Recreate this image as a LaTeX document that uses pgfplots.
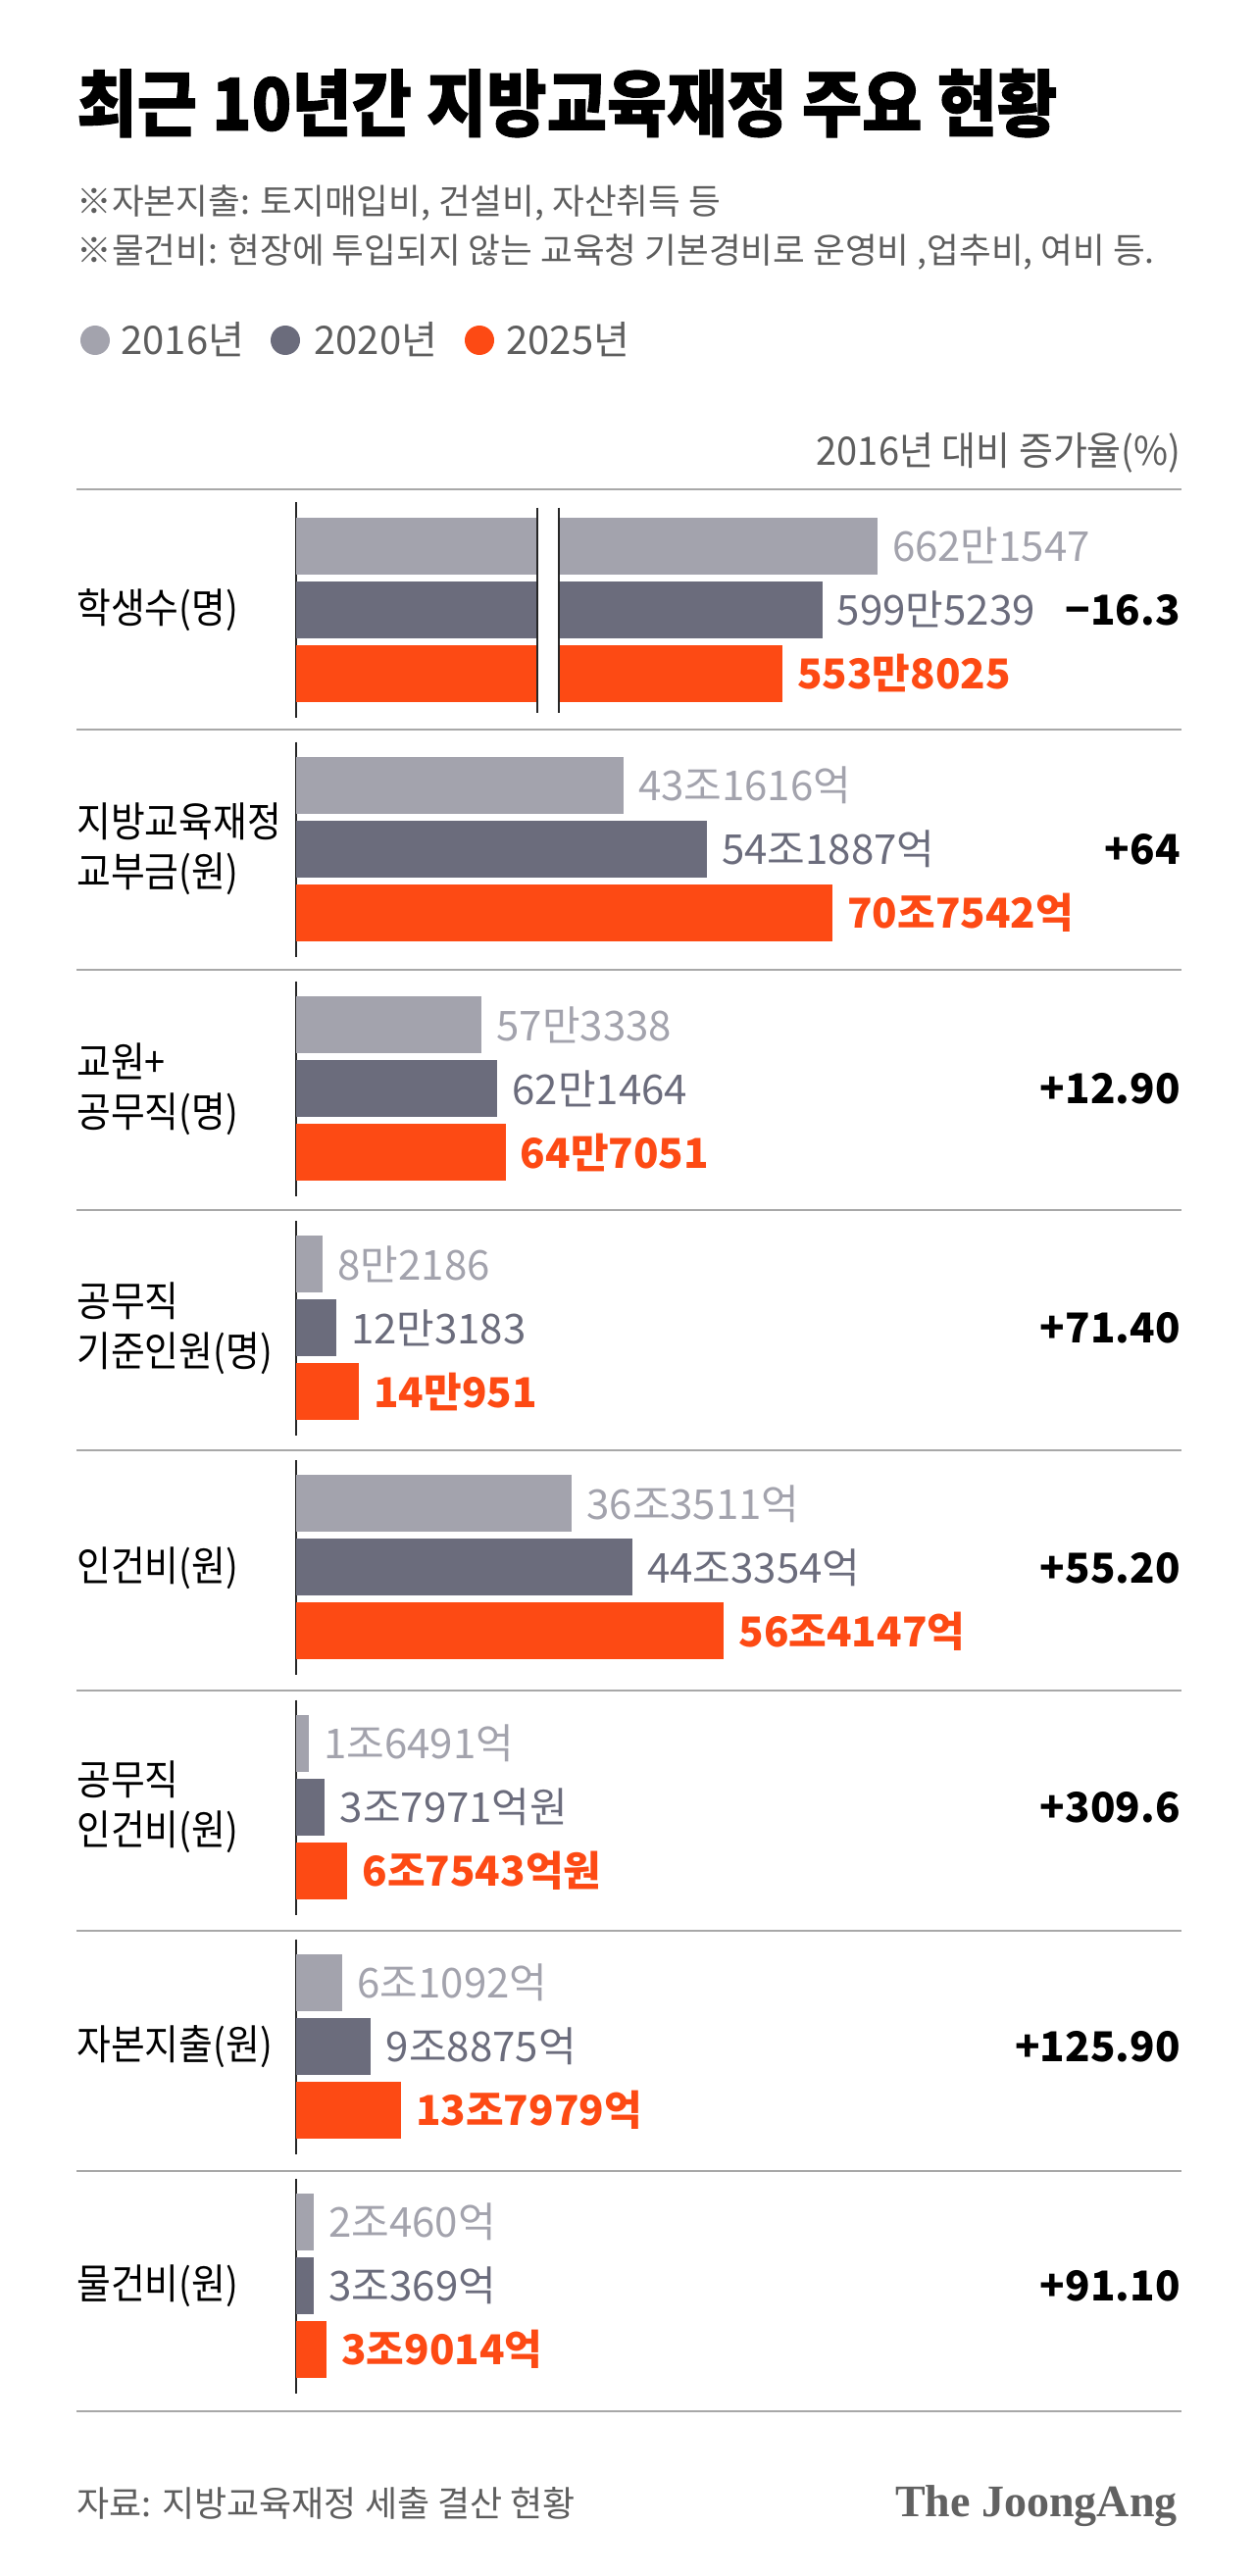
\documentclass[border=0pt]{standalone}
\usepackage{fontspec}
\usepackage{pgfplots}
\pgfplotsset{compat=1.18}
\setmainfont{Noto Sans CJK KR}
\newfontfamily\krB{Noto Sans CJK KR}
\newfontfamily\krN[FakeStretch=0.9]{Noto Sans CJK KR}
\newfontfamily\krH[FakeStretch=0.95]{Noto Sans CJK KR}
\newfontfamily\krT[FakeStretch=0.9,FakeBold=1.2]{Noto Sans CJK KR}
\newfontfamily\logofont{Liberation Serif}
\definecolor{c16}{HTML}{A3A3AD}
\definecolor{c20}{HTML}{6B6C7C}
\definecolor{c25}{HTML}{FD4A14}
\definecolor{sepc}{HTML}{A8A8A8}
\definecolor{notec}{HTML}{5E5E5E}
\pgfplotsset{
  rowaxis/.style={
    xbar, bar width=29pt, bar shift=0pt,
    y=32.5pt, y dir=reverse, ymin=-0.68, ymax=2.69, xmin=0,
    axis x line=none, axis y line*=left, ytick=\empty, xtick=\empty,
    axis line style={line width=0.9pt, black!85},
    enlargelimits=false, clip=false, anchor=west,
    point meta=explicit symbolic, nodes near coords,
    every node near coord/.append style={anchor=west, inner sep=0pt, xshift=7.5pt,
      font=\krB\fontsize{21pt}{24pt}\selectfont},
  },
  p16/.style={fill=c16, draw=none, every node near coord/.append style={text=c16}},
  p20/.style={fill=c20, draw=none, every node near coord/.append style={text=c20}},
  p25/.style={fill=c25, draw=none, every node near coord/.append style={text=c25, font=\krB\bfseries\fontsize{21pt}{24pt}\selectfont}},
}
\begin{document}
\begin{tikzpicture}[x=0.5pt,y=-0.5pt]
\fill[white] (0,0) rectangle (1280,2627);
\path[use as bounding box] (0,0) rectangle (1280,2627);
% title and notes
\node[anchor=base west, inner sep=0] at (78,133) {\krT\bfseries\fontsize{37pt}{42pt}\selectfont 최근 10년간 지방교육재정 주요 현황};
\node[anchor=base west, inner sep=0, text=notec] at (78,219) {\krB\fontsize{17.8pt}{21pt}\selectfont ※자본지출: 토지매입비, 건설비, 자산취득 등};
\node[anchor=base west, inner sep=0, text=notec] at (78,269) {\krB\fontsize{17.8pt}{21pt}\selectfont ※물건비: 현장에 투입되지 않는 교육청 기본경비로 운영비 ,업추비, 여비 등.};
% legend
\fill[c16] (97,347) circle (15);
\fill[c20] (291,347) circle (15);
\fill[c25] (489,347) circle (15);
\node[anchor=base west, inner sep=0, text=notec] at (123,362) {\krB\fontsize{20pt}{24pt}\selectfont 2016년};
\node[anchor=base west, inner sep=0, text=notec] at (320,362) {\krB\fontsize{20pt}{24pt}\selectfont 2020년};
\node[anchor=base west, inner sep=0, text=notec] at (516,362) {\krB\fontsize{20pt}{24pt}\selectfont 2025년};
% header
\node[anchor=base east, inner sep=0, text=notec] at (1205,474) {\krH\fontsize{20pt}{24pt}\selectfont 2016년 대비 증가율(\%)};
% separators
\foreach \k in {0,...,8} \draw[sepc, line width=1pt] (78,{499+245*\k}) -- (1205,{499+245*\k});
% row labels
\tikzset{rl/.style={anchor=west, align=left, inner sep=0, font=\krN\fontsize{21pt}{25.5pt}\selectfont},
         rv/.style={anchor=east, inner sep=0, font=\krB\bfseries\fontsize{21pt}{24pt}\selectfont}}
\node[rl] at (78,622) {학생수(명)};
\node[rl] at (78,866.2) {지방교육재정\\교부금(원)};
\node[rl] at (78,1110.4) {교원+\\공무직(명)};
\node[rl] at (78,1354.6) {공무직\\기준인원(명)};
\node[rl] at (78,1598.8) {인건비(원)};
\node[rl] at (78,1843) {공무직\\인건비(원)};
\node[rl] at (78,2087.2) {자본지출(원)};
\node[rl] at (78,2331.4) {물건비(원)};
\node[rv] at (1204,622) {−16.3};
\node[rv] at (1204,866.2) {+64};
\node[rv] at (1204,1110.4) {+12.90};
\node[rv] at (1204,1354.6) {+71.40};
\node[rv] at (1204,1598.8) {+55.20};
\node[rv] at (1204,1843) {+309.6};
\node[rv] at (1204,2087.2) {+125.90};
\node[rv] at (1204,2331.4) {+91.10};
% row 1: students (broken bar)
\begin{axis}[rowaxis, at={(151pt,-311pt)}, x=0.4475pt, xmax=700]
\addplot[p16] coordinates {(662.1547,0) [662만1547]};
\addplot[p20] coordinates {(599.5239,1) [599만5239]};
\addplot[p25] coordinates {(553.8025,2) [553만8025]};
\fill[white] (axis cs:275.6,-0.5) rectangle (axis cs:298.8,2.5);
\draw[line width=0.9pt, black!85] (axis cs:274.9,-0.6) -- (axis cs:274.9,2.62);
\draw[line width=0.9pt, black!85] (axis cs:299.4,-0.6) -- (axis cs:299.4,2.62);
\end{axis}
% row 2
\begin{axis}[rowaxis, at={(151pt,-433.1pt)}, x=3.865pt, xmax=75]
\addplot[p16] coordinates {(43.1616,0) [43조1616억]};
\addplot[p20] coordinates {(54.1887,1) [54조1887억]};
\addplot[p25] coordinates {(70.7542,2) [70조7542억]};
\end{axis}
% row 3
\begin{axis}[rowaxis, at={(151pt,-555.2pt)}, x=1.65pt, xmax=70]
\addplot[p16] coordinates {(57.3338,0) [57만3338]};
\addplot[p20] coordinates {(62.1464,1) [62만1464]};
\addplot[p25] coordinates {(64.7051,2) [64만7051]};
\end{axis}
% row 4
\begin{axis}[rowaxis, at={(151pt,-677.3pt)}, x=1.65pt, xmax=70]
\addplot[p16] coordinates {(8.2186,0) [8만2186]};
\addplot[p20] coordinates {(12.3183,1) [12만3183]};
\addplot[p25] coordinates {(19.4,2) [14만951]};
\end{axis}
% row 5
\begin{axis}[rowaxis, at={(151pt,-799.4pt)}, x=3.865pt, xmax=75]
\addplot[p16] coordinates {(36.3511,0) [36조3511억]};
\addplot[p20] coordinates {(44.3354,1) [44조3354억]};
\addplot[p25] coordinates {(56.4147,2) [56조4147억]};
\end{axis}
% row 6
\begin{axis}[rowaxis, at={(151pt,-921.5pt)}, x=3.865pt, xmax=75]
\addplot[p16] coordinates {(1.6491,0) [1조6491억]};
\addplot[p20] coordinates {(3.7971,1) [3조7971억원]};
\addplot[p25] coordinates {(6.7543,2) [6조7543억원]};
\end{axis}
% row 7
\begin{axis}[rowaxis, at={(151pt,-1043.6pt)}, x=3.865pt, xmax=75]
\addplot[p16] coordinates {(6.1092,0) [6조1092억]};
\addplot[p20] coordinates {(9.8875,1) [9조8875억]};
\addplot[p25] coordinates {(13.7979,2) [13조7979억]};
\end{axis}
% row 8
\begin{axis}[rowaxis, at={(151pt,-1165.7pt)}, x=3.865pt, xmax=75]
\addplot[p16] coordinates {(2.3,0) [2조460억]};
\addplot[p20] coordinates {(2.35,1) [3조369억]};
\addplot[p25] coordinates {(4.0,2) [3조9014억]};
\end{axis}
% footer
\node[anchor=base west, inner sep=0, text=notec] at (78,2566) {\krB\fontsize{18pt}{22pt}\selectfont 자료: 지방교육재정 세출 결산 현황};
\node[anchor=base east, inner sep=0, text=black!62] at (1201,2566) {\logofont\bfseries\fontsize{23pt}{26pt}\selectfont The JoongAng};
\end{tikzpicture}
\end{document}
